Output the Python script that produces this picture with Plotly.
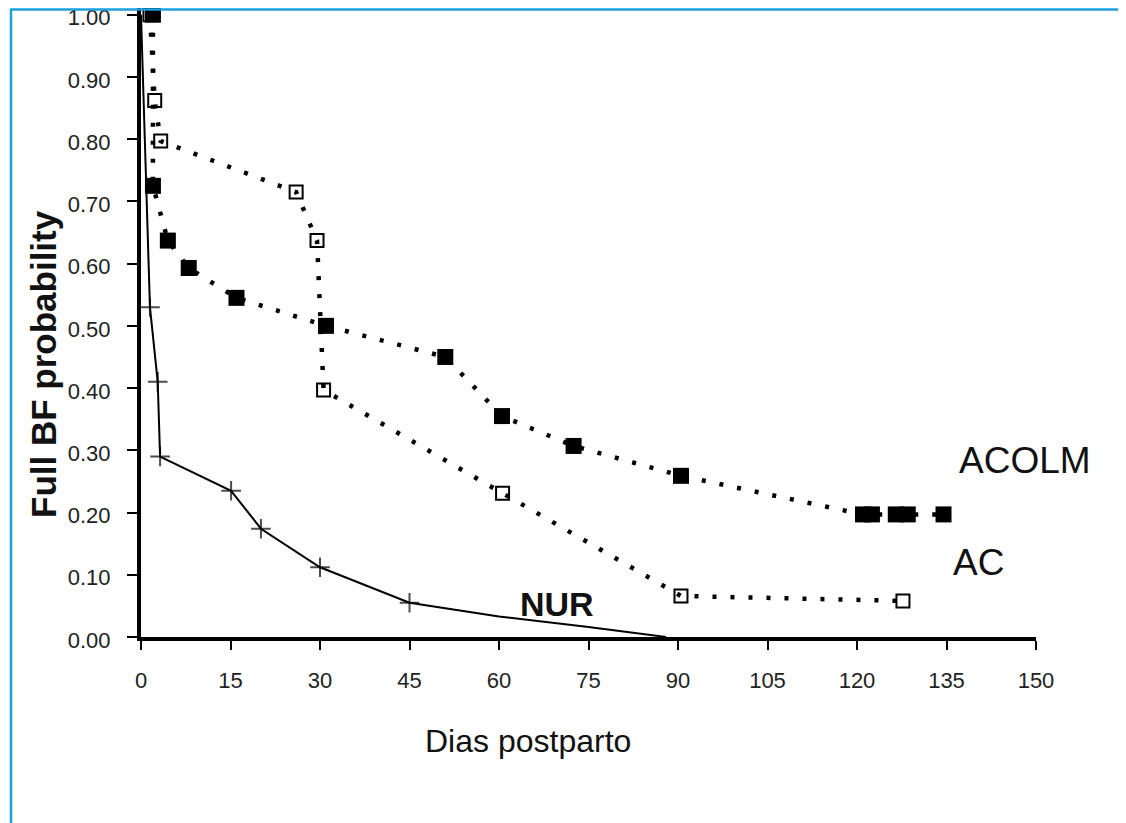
import plotly.graph_objects as go

# ---- data ----
acolm_days = [2, 2, 4.5, 8, 16, 31, 51, 60.5, 72.5, 90.5, 121, 122.5, 126.5, 128.5, 134.5]
acolm_prob = [1.00, 0.725, 0.637, 0.593, 0.545, 0.50, 0.45, 0.355, 0.307, 0.259,
              0.197, 0.197, 0.197, 0.197, 0.197]

ac_days = [1.5, 2.3, 3.3, 26, 29.5, 30.6, 60.6, 90.5, 127.7]
ac_prob = [1.00, 0.862, 0.797, 0.715, 0.637, 0.397, 0.231, 0.066, 0.058]

nur_days = [0, 1.5, 2.8, 3.2, 15.1, 20.1, 30, 45, 60, 75, 88]
nur_prob = [1.00, 0.53, 0.41, 0.29, 0.235, 0.174, 0.112, 0.055, 0.033, 0.016, 0.0]
nur_marked = [False, True, True, True, True, True, True, True, False, False, False]

x_ticks = [0, 15, 30, 45, 60, 75, 90, 105, 120, 135, 150]
y_ticks = [0.0, 0.1, 0.2, 0.3, 0.4, 0.5, 0.6, 0.7, 0.8, 0.9, 1.0]
y_tick_labels = ["0.00", "0.10", "0.20", "0.30", "0.40", "0.50", "0.60", "0.70", "0.80", "0.90", "1.00"]

FONT = "Liberation Sans, Arial, sans-serif"
OFF = 8  # page body margin
W, H = 1126 - OFF, 823 - OFF
L = 141 - OFF
R = W - (1036 - OFF)
T = 0
B = H - (637 - OFF)
PW, PH = W - L - R, H - T - B

fig = go.Figure()

fig.add_trace(go.Scatter(
    x=nur_days, y=nur_prob, mode="lines+markers",
    line=dict(color="black", width=2),
    marker=dict(symbol="cross-thin", size=[14 if m else 0 for m in nur_marked],
                color="black", line=dict(color="black", width=2)),
    cliponaxis=False, showlegend=False))

fig.add_trace(go.Scatter(
    x=ac_days, y=ac_prob, mode="lines+markers",
    line=dict(color="black", width=4.5, dash="4px,14px"),
    marker=dict(symbol="square-open", size=13, color="black",
                line=dict(color="black", width=2)),
    cliponaxis=False, showlegend=False))

fig.add_trace(go.Scatter(
    x=acolm_days, y=acolm_prob, mode="lines+markers",
    line=dict(color="black", width=4.5, dash="4px,14px"),
    marker=dict(symbol="square", size=16, color="black"),
    cliponaxis=False, showlegend=False))


def px_to_paper_x(px):
    # px given in reference-screenshot pixels
    return (px - OFF - L) / PW


def px_to_paper_y(py):
    return (H - B - (py - OFF)) / PH


annotations = [
    dict(text="ACOLM", x=148.2, y=0.284, xref="x", yref="y", showarrow=False,
         font=dict(family=FONT, size=37, color="#111"), xanchor="center", yanchor="middle"),
    dict(text="AC", x=140.3, y=0.119, xref="x", yref="y", showarrow=False,
         font=dict(family=FONT, size=37, color="#111"), xanchor="center", yanchor="middle"),
    dict(text="<b>NUR</b>", x=69.8, y=0.053, xref="x", yref="y", showarrow=False,
         font=dict(family=FONT, size=34, color="#111"), xanchor="center", yanchor="middle"),
    dict(text="Dias postparto", x=px_to_paper_x(528), y=px_to_paper_y(741),
         xref="paper", yref="paper", showarrow=False,
         font=dict(family=FONT, size=32, color="#111"), xanchor="center", yanchor="middle"),
    dict(text="<b>Full BF probability</b>", x=px_to_paper_x(43), y=px_to_paper_y(364),
         xref="paper", yref="paper", showarrow=False, textangle=-90,
         font=dict(family=FONT, size=35, color="#111"), xanchor="center", yanchor="middle"),
]

blue = "#1aa0dc"
shapes = [
    dict(type="line", xref="paper", yref="paper",
         x0=px_to_paper_x(11), x1=px_to_paper_x(11), y0=px_to_paper_y(9), y1=px_to_paper_y(823),
         line=dict(color=blue, width=2.5)),
    dict(type="line", xref="paper", yref="paper",
         x0=px_to_paper_x(10), x1=px_to_paper_x(1126), y0=px_to_paper_y(9.5), y1=px_to_paper_y(9.5),
         line=dict(color=blue, width=2.5)),
]

fig.update_layout(
    width=W, height=H,
    margin=dict(l=L, r=R, t=T, b=B, autoexpand=False),
    paper_bgcolor="white", plot_bgcolor="white",
    annotations=annotations, shapes=shapes,
    xaxis=dict(range=[0, 150], tickvals=x_ticks, ticktext=[str(v) for v in x_ticks],
               showgrid=False, zeroline=False, showline=True, linecolor="black", linewidth=4,
               ticks="outside", ticklen=9, tickwidth=1.5, tickcolor="black",
               ticklabelstandoff=12, ticklabeloverflow="allow", automargin=False,
               tickfont=dict(family=FONT, size=22, color="#222")),
    yaxis=dict(range=[0, PH / 622.3], tickvals=y_ticks, ticktext=y_tick_labels,
               showgrid=False, zeroline=False, showline=True, linecolor="black", linewidth=4,
               ticks="outside", ticklen=10, tickwidth=1.5, tickcolor="black",
               ticklabelstandoff=12, ticklabelshift=3, ticklabeloverflow="allow", automargin=False,
               tickfont=dict(family=FONT, size=22, color="#222")),
)

fig.write_html("out.html")
